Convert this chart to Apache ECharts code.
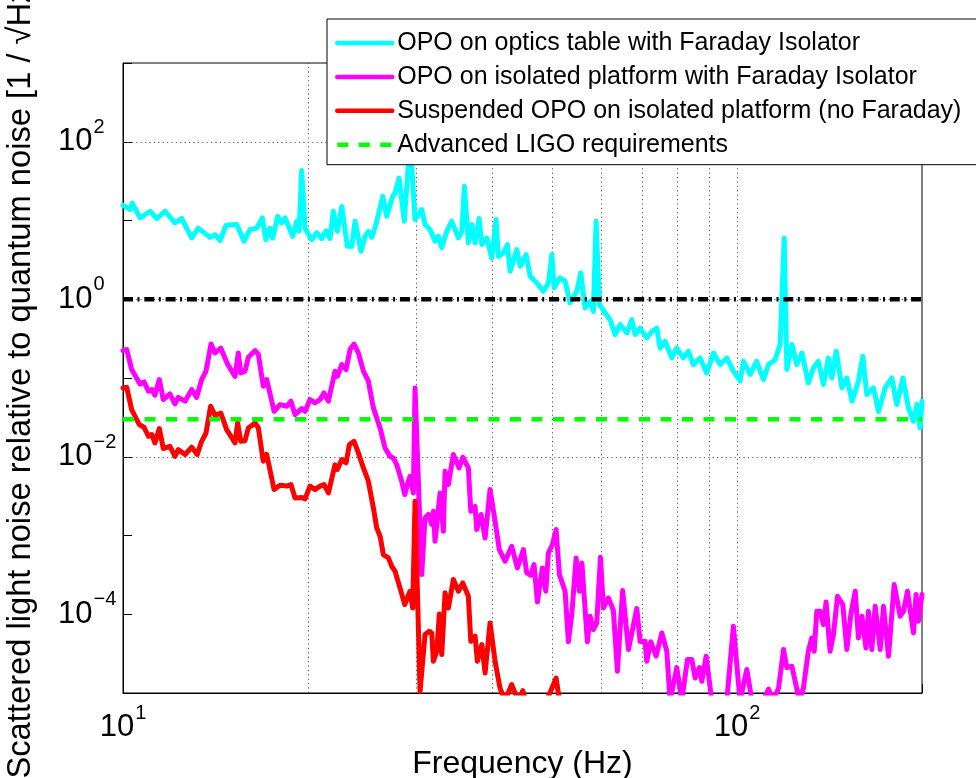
<!DOCTYPE html>
<html>
<head>
<meta charset="utf-8">
<title>Scattered light noise</title>
<script src="https://cdn.jsdelivr.net/npm/echarts@6.0.0/dist/echarts.min.js"></script>
<style>
html, body { margin: 0; padding: 0; background: #fff; }
#chart { width: 976px; height: 778px; }
</style>
</head>
<body>
<div id="chart"></div>
<script>
// frequency (Hz) / noise ratio
const cyanFreq = [10.0, 10.27, 10.35, 10.66, 11.07, 11.35, 11.71, 12.15, 12.46, 12.94, 13.26, 13.86, 14.12, 14.39, 14.72,
  15.32, 15.74, 16.10, 16.51, 16.86, 17.08, 17.35, 17.53, 17.86, 18.13, 18.36, 18.89, 19.18, 19.35, 19.54, 19.79,
  20.29, 20.68, 21.07, 21.41, 21.73, 22.00, 22.34, 22.71, 23.19, 23.58, 23.87, 24.41, 24.78, 25.09, 25.41, 25.82,
  26.48, 26.88, 27.49, 27.73, 28.15, 28.71, 29.23, 29.5, 29.89, 30.65, 31.03, 31.62, 32.22, 32.62, 33.04, 33.67,
  34.30, 35.17, 35.62, 35.97, 36.51, 36.98, 37.44, 38.01, 38.39, 39.11, 39.85, 40.50, 40.85, 41.63, 42.26, 42.69,
  43.78, 44.33, 45.33, 46.02, 47.19, 48.37, 49.28, 49.92, 50.35, 51.49, 52.47, 53.46, 54.82, 55.65, 56.55, 57.62,
  58.34, 58.93, 59.66, 60.95, 62.11, 63.30, 64.49, 66.13, 67.38, 68.23, 69.50, 71.27, 72.62, 73.99, 74.92, 76.32,
  78.26, 79.75, 81.74, 83.29, 84.86, 87.01, 89.22, 91.49, 93.82, 96.21, 98.6, 101.1, 102.4, 105.0, 107.6, 110.4,
  112.5, 115.3, 117.5, 119.3, 120.5, 122.8, 125.1, 127.5, 130.6, 133.1, 135.6, 138.2, 140.8, 142.6, 145.0, 148.1,
  150.9, 153.8, 157.6, 160.2, 162.6, 166.7, 169.9, 174.2, 178.6, 182.0, 186.2, 190.1, 193.7, 196.2, 198.6, 200]
const cyanVal = [15.6, 13.8, 16.7, 10.8, 13.1, 10.6, 13.1, 9.3, 10.6, 6.0, 8.0, 6.1, 6.6, 5.55, 8.7,
  8.9, 5.45, 7.7, 8.0, 10.8, 5.7, 8.0, 6.0, 11.3, 9.3, 10.8, 6.3, 9.8, 7.3, 43, 8.0,
  5.7, 7.0, 5.9, 7.4, 5.9, 13.1, 7.3, 15.1, 4.7, 4.7, 9.8, 4.07, 6.3, 7.3, 6.1, 8.9,
  20.3, 11.3, 20.3, 22.3, 34.6, 9.8, 70, 55, 10.3, 13.8, 8.9, 7.7, 5.45, 6.3, 4.5, 7.3,
  9.8, 6.0, 7.3, 27.2, 5.2, 8.9, 5.2, 10.6, 4.95, 6.0, 3.35, 10.3, 3.5, 3.87, 4.95, 2.27,
  4.27, 2.62, 3.69, 1.96, 1.61, 1.26, 1.61, 3.69, 1.39, 1.87, 1.69, 0.90, 1.26, 2.16, 0.775, 0.94,
  0.70, 9.8, 0.86, 0.67, 0.55, 0.356, 0.477, 0.373, 0.55, 0.356, 0.43, 0.323, 0.39, 0.43, 0.24, 0.293,
  0.18, 0.24, 0.18, 0.219, 0.148, 0.18, 0.116, 0.208, 0.148, 0.18, 0.122, 0.0917, 0.163, 0.111, 0.163, 0.0957,
  0.148, 0.171, 0.266, 6.0, 0.128, 0.266, 0.148, 0.208, 0.0866, 0.134, 0.163, 0.0827, 0.18, 0.1, 0.219, 0.075,
  0.1, 0.0508, 0.0917, 0.189, 0.0617, 0.075, 0.0376, 0.075, 0.1, 0.046, 0.1, 0.0417, 0.0282, 0.046, 0.0233, 0.0508]

const magentaFreq = [10.0, 10.14, 10.33, 10.66, 10.82, 11.0, 11.14, 11.27, 11.46, 11.63, 11.92, 12.15, 12.30, 12.62,
  12.94, 13.18, 13.43, 13.65, 13.91, 14.12, 14.43, 14.79, 15.22, 15.41, 15.55, 15.80, 16.00, 16.41, 16.61, 16.92,
  17.14, 17.62, 18.02, 18.48, 18.77, 19.06, 19.54, 19.79, 20.16, 20.54, 20.93, 21.25, 21.6, 22.14, 22.34, 22.71,
  23.08, 23.43, 23.78, 24.17, 24.63, 25.09, 25.57, 26.22, 26.71, 27.22, 27.56, 27.91, 28.43, 28.76, 29.15, 29.33,
  29.52, 29.70, 29.89, 30.65, 31.03, 31.42, 31.82, 32.02, 32.22, 32.83, 33.24, 33.45, 33.87, 34.51, 35.26, 35.75,
  36.51, 36.84, 37.44, 37.67, 38.29, 38.87, 39.6, 40.35, 41.0, 41.89, 42.95, 43.87, 44.87, 45.44, 46.13, 46.70,
  47.29, 48.18, 48.8, 49.28, 50.03, 50.73, 51.36, 52.47, 53.12, 53.81, 54.68, 55.37, 55.87, 57.04, 57.62, 58.34,
  59.08, 59.9, 60.57, 61.71, 62.88, 63.83, 65.1, 66.53, 67.38, 68.65, 69.5, 70.82, 71.27, 72.35, 73.81, 75.40,
  76.82, 77.78, 79.75, 81.26, 82.99, 84.37, 85.43, 86.82, 87.6, 89.03, 90.95, 93.12, 96.21, 98.6, 101.1, 103.7,
  105.7, 108.3, 112.5, 114.4, 116.8, 119.0, 120.5, 122.8, 124.3, 126.3, 128.2, 130.6, 132.3, 133.5, 134.8, 136.5,
  138.2, 139.6, 141.7, 143.5, 145.7, 148.6, 150.9, 153.2, 155.7, 157.6, 159.7, 162.1, 163.6, 165.7, 167.8, 171.0,
  173.1, 176.4, 180.2, 184.3, 186.6, 189.4, 193.7, 195.6, 197.3, 200]
const magentaVal = [0.223, 0.23, 0.128, 0.084, 0.0892, 0.0679, 0.0714, 0.0604, 0.0956, 0.0532, 0.0627, 0.0468, 0.0568, 0.0508,
  0.0714, 0.0568, 0.0956, 0.122, 0.27, 0.208, 0.24, 0.151, 0.105, 0.208, 0.116, 0.122, 0.183, 0.223, 0.199, 0.0786,
  0.0956, 0.0378, 0.046, 0.0438, 0.0508, 0.0343, 0.0409, 0.0378, 0.0532, 0.0483, 0.0532, 0.0647, 0.0508, 0.122, 0.105, 0.148,
  0.128, 0.23, 0.27, 0.208, 0.122, 0.091, 0.0417, 0.0232, 0.0129, 0.0101, 0.00966, 0.0079, 0.00489, 0.00331, 0.00489, 0.00565,
  0.00538, 0.00347, 0.0748, 0.000319, 0.00167, 0.00185, 0.00138, 0.00203, 0.000845, 0.00347, 0.00113, 0.00655, 0.00443, 0.0107, 0.00721, 0.00986,
  0.00721, 0.00203, 0.00235, 0.00119, 0.00185, 0.00093, 0.00383, 0.00152, 0.000663, 0.000471, 0.00073, 0.000387, 0.000663, 0.000335, 0.000313, 0.000428,
  0.000143, 0.000387, 0.000196, 0.0006, 0.000767, 0.00119, 0.000319, 0.000196, 0.0000447, 0.000101, 0.000519, 0.000196, 0.000449, 0.0000447, 0.0000944, 0.000064,
  0.0000776, 0.00053, 0.00012, 0.000161, 0.000112, 0.0000189, 0.0002, 0.0000356, 0.000058, 0.000118, 0.000045, 0.0000454, 0.0000253, 0.0000447, 0.0000293, 0.0000579,
  0.0000339, 0.000008, 0.000021, 0.000008, 0.0000266, 0.0000266, 0.0000155, 0.000021, 0.0000141, 0.0000293, 0.000008, 0.000004, 0.000008, 0.0000705, 0.000008, 0.0000199,
  0.000008, 0.000006, 0.0000112, 0.000008, 0.0000115, 0.0000356, 0.000021, 0.0000219, 0.0000141, 0.000008, 0.0000115, 0.0000339, 0.00005, 0.0000339, 0.000109, 0.000109,
  0.000074, 0.000143, 0.0000339, 0.0000552, 0.000169, 0.000133, 0.0000356, 0.000101, 0.000196, 0.00005, 0.0000944, 0.0000373, 0.000109, 0.0000356, 0.000126, 0.0000356,
  0.000126, 0.0000293, 0.000238, 0.0000944, 0.000109, 0.000196, 0.0000579, 0.000178, 0.0000815, 0.000178]

const redFreq = [10.0, 10.14, 10.33, 10.63, 10.82, 11.0, 11.14, 11.27, 11.46, 11.63, 11.92, 12.15, 12.30, 12.62, 12.94,
  13.21, 13.43, 13.65, 13.89, 14.12, 14.43, 14.75, 15.22, 15.37, 15.55, 15.80, 16.00, 16.41, 16.61, 16.92, 17.14,
  17.62, 18.02, 18.48, 18.77, 19.06, 19.54, 19.79, 20.16, 20.54, 20.93, 21.25, 21.6, 22.14, 22.34, 22.71, 23.08,
  23.37, 23.78, 24.17, 24.63, 25.09, 25.57, 25.89, 26.22, 26.54, 27.05, 27.39, 27.73, 28.25, 28.76, 29.33, 29.63,
  29.89, 30.46, 31.03, 31.54, 31.82, 32.02, 32.43, 32.74, 33.04, 33.45, 33.87, 34.51, 35.17, 35.75, 36.51, 36.84,
  37.44, 37.76, 38.39, 38.87, 39.6, 40.35, 41.11, 41.89, 42.95, 44.0, 44.77, 45.5, 48.0, 49.59, 50.73, 51.5,
  60, 100, 200]
const redVal = [0.0748, 0.0761, 0.0397, 0.0256, 0.0237, 0.0182, 0.0191, 0.015, 0.0228, 0.0127, 0.0136, 0.0101, 0.0123, 0.0107, 0.0132,
  0.0107, 0.0157, 0.02, 0.0438, 0.0336, 0.0359, 0.0221, 0.015, 0.0269, 0.0157, 0.016, 0.0232, 0.0269, 0.0232, 0.00877, 0.0107,
  0.00383, 0.00435, 0.00424, 0.00443, 0.003, 0.00304, 0.00292, 0.00424, 0.00383, 0.00424, 0.00443, 0.00347, 0.0079, 0.00688, 0.0092, 0.00837,
  0.0143, 0.0157, 0.0112, 0.00721, 0.00489, 0.00224, 0.00125, 0.00098, 0.000573, 0.000519, 0.000407, 0.000352, 0.000216, 0.000133, 0.000196, 0.00012,
  0.00272, 0.0000105, 0.0000552, 0.0000608, 0.0000579, 0.0000253, 0.0000339, 0.000101, 0.0000308, 0.000187, 0.00012, 0.000276, 0.000196, 0.00025, 0.000169, 0.0000454,
  0.0000526, 0.0000253, 0.0000412, 0.000018, 0.0000776, 0.0000253, 0.0000115, 0.000008, 0.0000128, 0.000008, 0.0000107, 0.000007, 0.000006, 0.0000101, 0.0000155, 0.000007,
  0.000004, 0.000003, 0.000003]

const freqRange = [10, 200]
const quantumLevel = 1
const ligoRequirement = 0.03
const yLabelExponents = [-4, -2, 0, 2]
const xGridFreqs = [20, 30, 40, 50, 60, 70, 80, 90, 100]

const FONT = 'Liberation Sans, Arial, Helvetica, sans-serif'
const LW = 5

function zip (f, v) {
  return f.map(function (x, i) { return [x, v[i]] })
}

function supLabel (e) {
  const s = e < 0 ? '\u2212' + Math.abs(e) : String(e)
  return '{b|10}{s|' + s + '}'
}

// superscript is lifted by half its bottom padding
const richTick = {
  b: { fontSize: 31, fontFamily: FONT, color: '#000' },
  s: { fontSize: 20, fontFamily: FONT, color: '#000', padding: [0, 0, 29, 1] }
}

const myChart = echarts.init(document.getElementById('chart'))

const gridLine = { color: '#555', width: 1, type: [1.2, 3.2] }

const option = {
  animation: false,
  backgroundColor: '#fff',
  grid: {
    left: 123,
    right: 54,
    top: 63,
    bottom: 85,
    containLabel: false,
    outerBoundsMode: 'none',
    show: true,
    borderColor: '#000',
    borderWidth: 1,
    backgroundColor: 'transparent'
  },
  legend: {
    orient: 'vertical',
    left: 327,
    top: 19,
    padding: [10, 40, 6, 8],
    itemGap: 5.9,
    itemWidth: 55,
    itemHeight: 28,
    backgroundColor: '#fff',
    borderColor: '#000',
    borderWidth: 1,
    borderRadius: 0,
    z: 10,
    selectedMode: false,
    itemStyle: { opacity: 0 },
    lineStyle: { width: 4.5 },
    textStyle: { fontSize: 25, lineHeight: 28, fontFamily: FONT, color: '#000' },
    data: [
      'OPO on optics table with Faraday Isolator',
      'OPO on isolated platform with Faraday Isolator',
      'Suspended OPO on isolated platform (no Faraday)',
      'Advanced LIGO requirements'
    ]
  },
  xAxis: {
    type: 'log',
    logBase: 10,
    min: freqRange[0],
    max: freqRange[1],
    name: 'Frequency (Hz)',
    nameLocation: 'middle',
    nameGap: 44,
    nameTextStyle: { fontSize: 32, fontFamily: FONT, color: '#000' },
    axisLine: { lineStyle: { color: '#000', width: 1 } },
    axisTick: { inside: true, length: 9, lineStyle: { color: '#000' } },
    splitLine: { show: false },
    axisLabel: {
      margin: 10,
      rich: richTick,
      formatter: function (v) {
        const l = Math.log10(v)
        const e = Math.round(l)
        if (Math.abs(l - e) > 1e-6) return ''
        return supLabel(e)
      }
    }
  },
  yAxis: {
    type: 'log',
    logBase: 10,
    min: 1e-5,
    max: 1e3,
    splitNumber: 8,
    name: 'Scattered light noise relative to quantum noise [1 / \u221AHz]',
    nameLocation: 'middle',
    nameRotate: 90,
    nameGap: 86,
    nameTextStyle: { fontSize: 32.7, fontFamily: FONT, color: '#000' },
    axisLine: { lineStyle: { color: '#000', width: 1 } },
    axisTick: { inside: true, length: 9, lineStyle: { color: '#000' } },
    splitLine: { show: false },
    axisLabel: {
      margin: 65,
      align: 'left',
      rich: richTick,
      formatter: function (v) {
        const l = Math.log10(v)
        const e = Math.round(l)
        if (Math.abs(l - e) > 1e-6 || yLabelExponents.indexOf(e) < 0) return ''
        return supLabel(e)
      }
    }
  },
  series: [
    {
      // dotted grid, drawn under the data
      name: 'grid',
      type: 'line',
      data: [[freqRange[0], 1e-5]],
      symbol: 'none',
      silent: true,
      lineStyle: { opacity: 0 },
      markLine: {
        z: 1,
        silent: true,
        symbol: ['none', 'none'],
        label: { show: false },
        lineStyle: gridLine,
        data: xGridFreqs.map(function (f) { return { xAxis: f } })
          .concat(yLabelExponents.map(function (e) { return { yAxis: Math.pow(10, e) } }))
      }
    },
    {
      name: 'OPO on optics table with Faraday Isolator',
      type: 'line',
      data: zip(cyanFreq, cyanVal),
      symbol: 'none',
      itemStyle: { color: '#00ffff' },
      lineStyle: { color: '#00ffff', width: LW, join: 'round', cap: 'round' }
    },
    {
      name: 'OPO on isolated platform with Faraday Isolator',
      type: 'line',
      data: zip(magentaFreq, magentaVal),
      symbol: 'none',
      itemStyle: { color: '#ff00ff' },
      lineStyle: { color: '#ff00ff', width: LW, join: 'round', cap: 'round' }
    },
    {
      name: 'Suspended OPO on isolated platform (no Faraday)',
      type: 'line',
      data: zip(redFreq, redVal),
      symbol: 'none',
      itemStyle: { color: '#ff0000' },
      lineStyle: { color: '#ff0000', width: LW, join: 'round', cap: 'round' }
    },
    {
      name: 'Advanced LIGO requirements',
      type: 'line',
      data: freqRange.map(function (f) { return [f, ligoRequirement] }),
      symbol: 'none',
      itemStyle: { color: '#00ff00' },
      lineStyle: { color: '#00ff00', width: 4.5, type: [11, 10.5] }
    },
    {
      name: 'quantum noise',
      type: 'line',
      data: freqRange.map(function (f) { return [f, quantumLevel] }),
      symbol: 'none',
      itemStyle: { color: '#000' },
      lineStyle: { color: '#000', width: 4.5, type: [10, 4.5, 2, 4.8] }
    }
  ]
}

myChart.setOption(option)
</script>
</body>
</html>
